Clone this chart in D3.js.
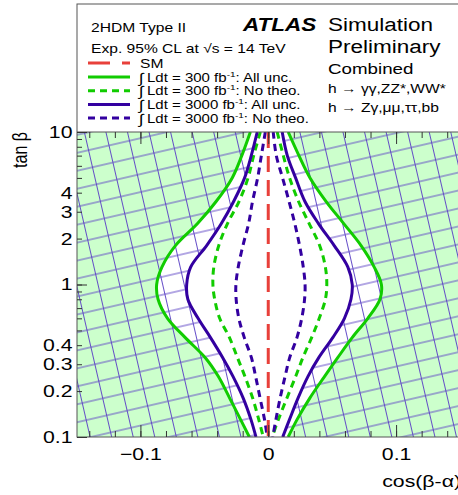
<!DOCTYPE html>
<html><head><meta charset="utf-8">
<script src="https://cdn.jsdelivr.net/npm/d3@7"></script>
<style>
body{margin:0;background:#fff}
svg{display:block}
text{font-family:"Liberation Sans",Arial,Helvetica,sans-serif;fill:#000}
</style>
</head><body>
<svg id="c" width="458" height="495"></svg>
<script>
// ---- data ----
const tanB = [10, 7, 5, 3.5, 2.5, 1.8, 1.3, 1, 0.8, 0.6, 0.45, 0.33, 0.25, 0.18, 0.13, 0.1];
// 300 fb-1, all uncertainties (green solid)
const g300AllL = [-0.0140,-0.0207,-0.0282,-0.0408,-0.0555,-0.0726,-0.0832,-0.0873,-0.0862,-0.0788,-0.0651,-0.0491,-0.0391,-0.0302,-0.0216,-0.0148];
const g300AllR = [0.0156,0.0240,0.0327,0.0453,0.0592,0.0726,0.0829,0.0885,0.0874,0.0779,0.0658,0.0542,0.0441,0.0325,0.0225,0.0156];
// 300 fb-1, no theory (green dashed)
const g300NoThL = [-0.0062,-0.0114,-0.0158,-0.0229,-0.0320,-0.0387,-0.0426,-0.0433,-0.0419,-0.0380,-0.0304,-0.0240,-0.0183,-0.0122,-0.0074,-0.0039];
const g300NoThR = [0.0070,0.0118,0.0167,0.0237,0.0321,0.0402,0.0447,0.0458,0.0447,0.0399,0.0340,0.0270,0.0215,0.0146,0.0079,0.0031];
// 3000 fb-1, all uncertainties (blue solid)
const b3000AllL = [-0.0086,-0.0133,-0.0185,-0.0271,-0.0368,-0.0482,-0.0607,-0.0638,-0.0629,-0.0549,-0.0453,-0.0355,-0.0276,-0.0196,-0.0135,-0.0096];
const b3000AllR = [0.0109,0.0149,0.0214,0.0287,0.0394,0.0516,0.0623,0.0657,0.0647,0.0596,0.0506,0.0394,0.0311,0.0233,0.0166,0.0113];
// 3000 fb-1, no theory (blue dashed)
const b3000NoThL = [-0.0023,-0.0054,-0.0083,-0.0123,-0.0154,-0.0198,-0.0235,-0.0253,-0.0251,-0.0230,-0.0188,-0.0131,-0.0099,-0.0064,-0.0029,-0.0008];
const b3000NoThR = [0.0039,0.0063,0.0112,0.0163,0.0208,0.0245,0.0274,0.0288,0.0284,0.0262,0.0225,0.0167,0.0132,0.0093,0.0060,0.0035];
const smCos = [0, 0];
const smTan = [10, 0.1];

const xMajor = [-0.1, 0, 0.1];
const xLabels = ["\u22120.1", "0", "0.1"];
const xMinor = [-0.14,-0.12,-0.1,-0.08,-0.06,-0.04,-0.02,0,0.02,0.04,0.06,0.08,0.1,0.12,0.14];
const yMajor = [0.1, 1, 10];
const yMinor = [0.1,0.2,0.3,0.4,0.5,0.6,0.7,0.8,0.9,1,2,3,4,5,6,7,8,9,10];
const yLabels = [10, 4, 3, 2, 1, 0.4, 0.3, 0.2, 0.1];

const legendEntries = [
  {lumi:"300", what:"All unc.", color:"#11cc00", dash:null},
  {lumi:"300", what:"No theo.", color:"#11cc00", dash:"7,5"},
  {lumi:"3000", what:"All unc.", color:"#3300a0", dash:null},
  {lumi:"3000", what:"No theo.", color:"#3300a0", dash:"7,5"}
];

// ---- layout ----
const SX = 1.25; // horizontal text stretch seen in the picture
const L = 77, R = 462, T = 132, B = 437, FT = 4;
const svg = d3.select("#c");
const x = d3.scaleLinear().domain([-0.15, 0.15]).range([76.5, 460]);
const y = d3.scaleLog().domain([0.1, 10]).range([B, T]);

const GREEN = "#11cc00", BLUE = "#3300a0", RED = "#e8403a";

const defs = svg.append("defs");
defs.append("clipPath").attr("id","plotclip").append("rect")
  .attr("x", L).attr("y", T).attr("width", R - L).attr("height", B - T);
const pat = defs.append("pattern").attr("id","hatch")
  .attr("patternUnits","userSpaceOnUse").attr("width",21).attr("height",17.5)
  .attr("patternTransform","rotate(-13)");
pat.append("line").attr("x1",0).attr("x2",21).attr("y1",8.75).attr("y2",8.75)
  .attr("stroke","#5f46c6").attr("stroke-width",0.95);
pat.append("line").attr("x1",10.5).attr("x2",10.5).attr("y1",0).attr("y2",17.5)
  .attr("stroke","#5f46c6").attr("stroke-width",0.95);

const zip = (cs, ts) => cs.map((c, i) => [c, ts[i]]);
const line = d3.line().x(d => x(d[0])).y(d => y(d[1])).curve(d3.curveCatmullRom.alpha(0.5));
function band(left, right) {
  const a = line(zip(left, tanB));
  const b = line(zip(right, tanB).reverse());
  return a + "L" + b.slice(1) + "Z";
}

const plot = svg.append("g").attr("clip-path","url(#plotclip)");
plot.append("rect").attr("x",L).attr("y",T).attr("width",R-L).attr("height",B-T).attr("fill","#ccffcc");
plot.append("path").attr("d", band(g300AllL, g300AllR)).attr("fill","#fff");
plot.append("rect").attr("x",L).attr("y",T).attr("width",R-L).attr("height",B-T).attr("fill","url(#hatch)");
plot.append("path").attr("d", band(b3000AllL, b3000AllR)).attr("fill","#fff");

function curve(cs, color, dash) {
  const p = plot.append("path").attr("d", line(zip(cs, tanB)))
    .attr("fill","none").attr("stroke",color).attr("stroke-width",3);
  if (dash) p.attr("stroke-dasharray", dash);
}
curve(g300AllL, GREEN); curve(g300AllR, GREEN);
curve(g300NoThL, GREEN, "7,5"); curve(g300NoThR, GREEN, "7,5");
curve(b3000AllL, BLUE); curve(b3000AllR, BLUE);
curve(b3000NoThL, BLUE, "7,5"); curve(b3000NoThR, BLUE, "7,5");
plot.append("path").attr("d", d3.line().x(d => x(d[0])).y(d => y(d[1]))(zip(smCos, smTan)))
  .attr("fill","none").attr("stroke",RED).attr("stroke-width",3).attr("stroke-dasharray","16,8");

// ---- frame ----
svg.append("rect").attr("x",L).attr("y",FT).attr("width",R+10-L).attr("height",B-FT)
  .attr("fill","none").attr("stroke","#555").attr("stroke-width",1);
svg.append("line").attr("x1",L).attr("x2",R+10).attr("y1",T).attr("y2",T)
  .attr("stroke","#555").attr("stroke-width",1);

// ---- axes ----
function styleAxis(g) {
  g.select(".domain").remove();
  g.selectAll(".tick line").attr("stroke","#333").attr("stroke-width",1);
}
// bottom
svg.append("g").attr("transform",`translate(0,${B})`)
  .call(d3.axisBottom(x).tickValues(xMinor).tickSize(-6).tickFormat(() => "")).call(styleAxis);
const xb = svg.append("g").attr("transform",`translate(0,${B})`)
  .call(d3.axisBottom(x).tickValues(xMajor).tickSize(-12).tickPadding(11)
    .tickFormat((d, i) => xLabels[i])).call(styleAxis);
xb.selectAll(".tick text").attr("font-size",17).attr("font-family",null)
  .attr("transform",`scale(${SX},1)`).attr("fill","#000");
// top
svg.append("g").attr("transform",`translate(0,${T})`)
  .call(d3.axisTop(x).tickValues(xMinor).tickSize(-6).tickFormat(() => "")).call(styleAxis);
svg.append("g").attr("transform",`translate(0,${T})`)
  .call(d3.axisTop(x).tickValues(xMajor).tickSize(-12).tickFormat(() => "")).call(styleAxis);
// left
const yl = svg.append("g").attr("transform",`translate(${L},0)`)
  .call(d3.axisLeft(y).tickValues(yMinor).tickSize(-5).tickPadding(3.6)
    .tickFormat(d => yLabels.some(v => Math.abs(v - d) < 1e-9) ? String(d) : "")).call(styleAxis);
yl.selectAll(".tick text").attr("font-size",17).attr("font-family",null)
  .attr("transform",`scale(${SX},1)`).attr("fill","#000");
svg.append("g").attr("transform",`translate(${L},0)`)
  .call(d3.axisLeft(y).tickValues(yMajor).tickSize(-10).tickFormat(() => "")).call(styleAxis);

// ---- texts ----
function txt(px, py, str, size, opts = {}) {
  const t = svg.append("text")
    .attr("transform", `translate(${px},${py}) scale(${SX},1)` + (opts.rot ? ` rotate(${opts.rot})` : ""))
    .attr("font-size", size)
    .attr("text-anchor", opts.anchor || "start");
  if (opts.weight) t.attr("font-weight", opts.weight);
  if (opts.style) t.attr("font-style", opts.style);
  if (str !== null) t.text(str);
  return t;
}
txt(461, 487, "cos(\u03b2-\u03b1)", 17, {anchor:"end"});
txt(27, 132, "tan \u03b2", 16, {anchor:"end", rot:-90});

txt(91, 32, "2HDM Type II", 12.5);
txt(91, 53, "Exp. 95% CL at \u221as = 14 TeV", 12.5);

txt(243, 31, "ATLAS", 18, {weight:"bold", style:"italic"});
txt(328, 31, "Simulation", 18);
txt(328, 53, "Preliminary", 18);
txt(328, 74, "Combined", 15);
txt(328, 93, "h \u2192 \u03b3\u03b3,ZZ*,WW*", 12.5);
txt(328, 112, "h \u2192 Z\u03b3,\u03bc\u03bc,\u03c4\u03c4,bb", 12.5);

// legend
svg.append("line").attr("x1",88).attr("x2",130).attr("y1",63).attr("y2",63)
  .attr("stroke",RED).attr("stroke-width",3).attr("stroke-dasharray","22,12");
txt(140, 67.5, "SM", 12.5);
legendEntries.forEach((e, i) => {
  const cy = 77 + i * 13.7;
  const l = svg.append("line").attr("x1",88).attr("x2",130).attr("y1",cy).attr("y2",cy)
    .attr("stroke",e.color).attr("stroke-width",3);
  if (e.dash) l.attr("stroke-dasharray", e.dash);
  txt(139, cy + 5.5, "\u222b", 14);
  const t = txt(147, cy + 4.5, null, 12);
  t.append("tspan").text(`Ldt = ${e.lumi} fb`);
  t.append("tspan").attr("dy",-5).attr("font-size",8).text("-1");
  t.append("tspan").attr("dy",5).text(`: ${e.what}`);
});
</script>
</body></html>
